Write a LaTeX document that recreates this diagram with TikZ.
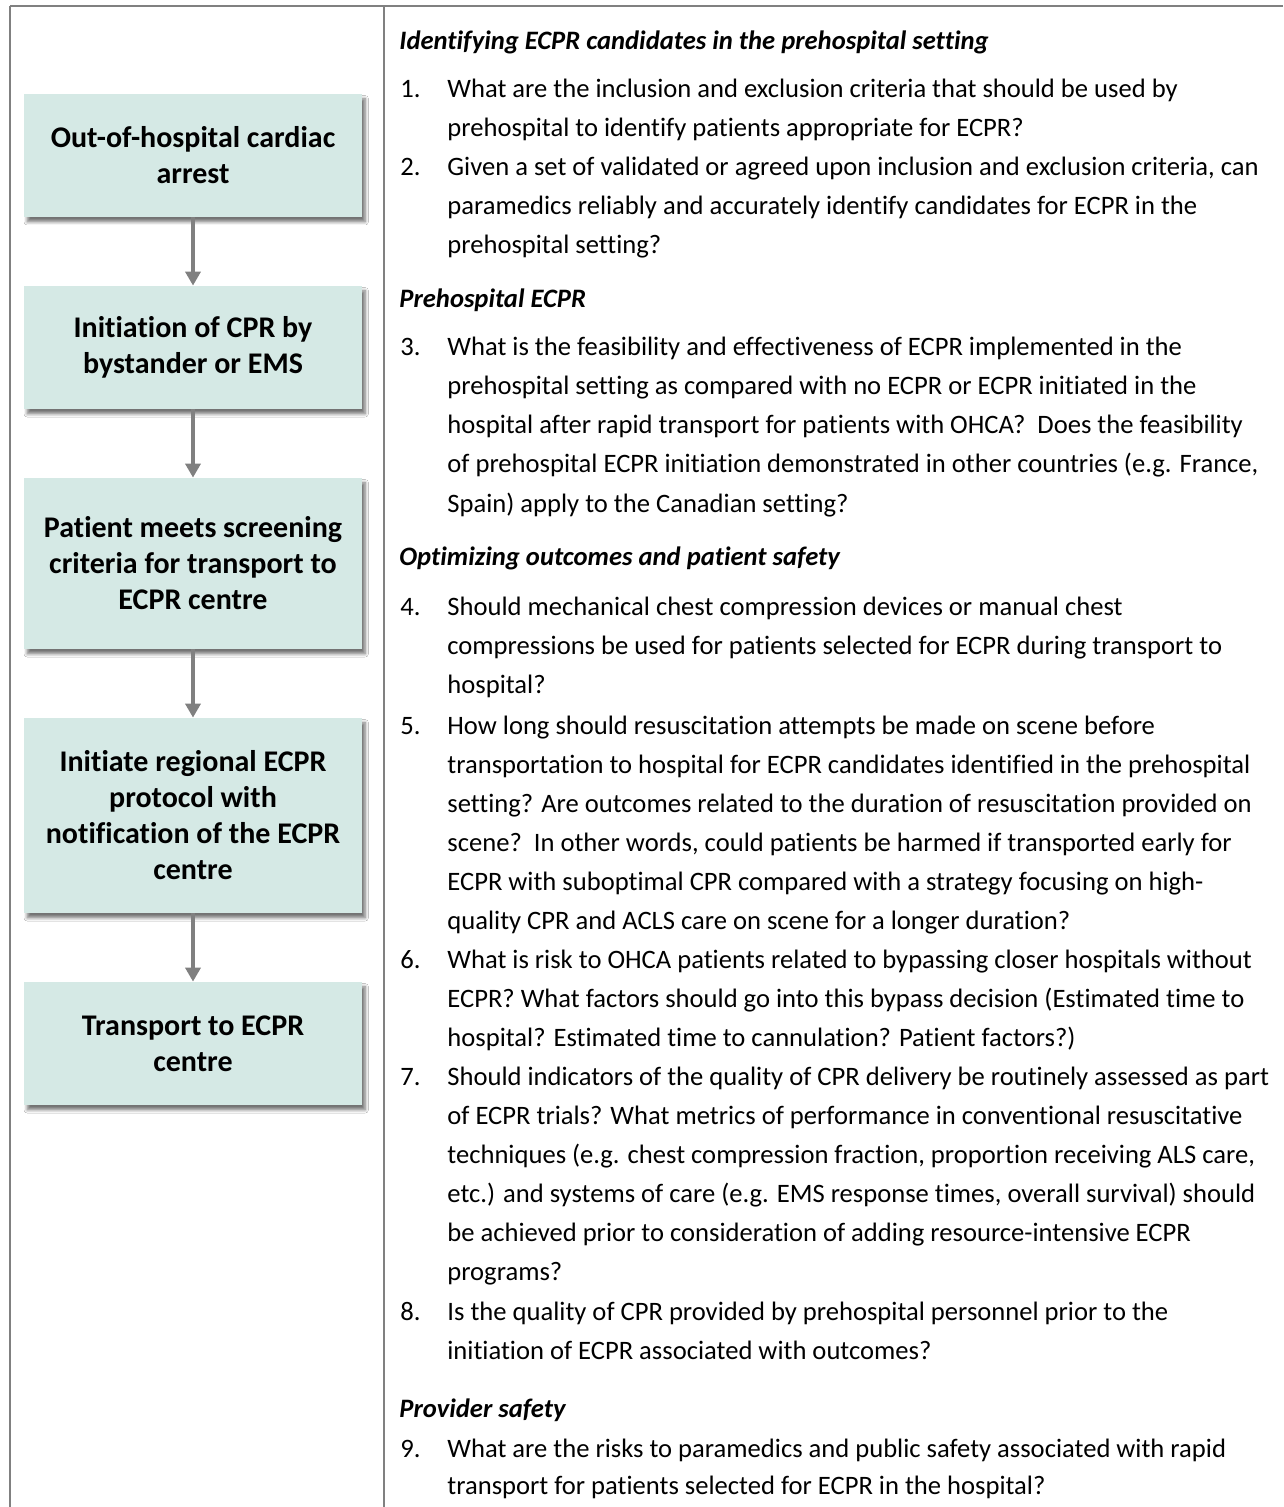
\documentclass[tikz,border=0pt]{standalone}
\usepackage{fontspec}
\setmainfont{Carlito}[Ligatures={NoCommon}]
\usetikzlibrary{arrows.meta,shadows,shadows.blur}
\definecolor{boxfill}{RGB}{213,233,229}
\definecolor{rulegray}{RGB}{128,128,128}
\definecolor{arrowgray}{RGB}{128,128,128}
\begin{document}
\begin{tikzpicture}[x=0.5pt,y=-0.5pt,
  flowbox/.style={draw=none, fill=boxfill, minimum width=169pt, inner sep=0pt, align=center,
    font=\fontsize{15}{18}\selectfont\bfseries,
    blur shadow={shadow xshift=1.6pt, shadow yshift=-2.4pt, shadow blur steps=6, shadow blur radius=1.6pt, shadow opacity=55}},
  flowarrow/.style={draw=arrowgray, line width=2pt, -{Triangle[width=7.5pt,length=7pt]}},
  body/.style={anchor=base west, inner sep=0pt, font=\fontsize{13.3}{16}\selectfont},
  head/.style={anchor=base west, inner sep=0pt, font=\fontsize{13.3}{16}\selectfont\bfseries\itshape},
  tablerule/.style={draw=rulegray, line width=1pt}]
\useasboundingbox (0,0) rectangle (1283,1507);
\fill[white] (0,0) rectangle (1283,1507);

% table rules
\coordinate (tl) at (10,6);
\coordinate (tr) at (1283,6);
\coordinate (tm) at (384,6);
\coordinate (bl) at (10,1507);
\coordinate (bm) at (384,1507);
\draw[tablerule] (tl) -- (tr);
\draw[tablerule] (tl) -- (bl);
\draw[tablerule] (tm) -- (bm);

% flow boxes
\node[flowbox, minimum height=61.5pt] (b1) at (193,155.5) {Out-of-hospital cardiac\\arrest};
\node[flowbox, minimum height=61.5pt] (b2) at (193,347.5) {Initiation of CPR by\\bystander or EMS};
\node[flowbox, minimum height=85.5pt] (b3) at (193,563.5) {Patient meets screening\\criteria for transport to\\ECPR centre};
\node[flowbox, minimum height=97.5pt] (b4) at (193,815.5) {Initiate regional ECPR\\protocol with\\notification of the ECPR\\centre};
\node[flowbox, minimum height=61.5pt] (b5) at (193,1043.5) {Transport to ECPR\\centre};

\draw[flowarrow] (b1.south) -- (b2.north);
\draw[flowarrow] (b2.south) -- (b3.north);
\draw[flowarrow] (b3.south) -- (b4.north);
\draw[flowarrow] (b4.south) -- (b5.north);

% right column
\node[head] (h1) at (399,50) {Identifying ECPR candidates in the prehospital setting};

\node[body] (n1) at (400,98) {1.};
\node[body] (t1a) at (447,98) {What are the inclusion and exclusion criteria that should be used by};
\node[body] (t1b) at (447,137) {prehospital to identify patients appropriate for ECPR?};

\node[body] (n2) at (400,176) {2.};
\node[body] (t2a) at (447,176) {Given a set of validated or agreed upon inclusion and exclusion criteria, can};
\node[body] (t2b) at (447,215) {paramedics reliably and accurately identify candidates for ECPR in the};
\node[body] (t2c) at (447,254) {prehospital setting?};

\node[head] (h2) at (399,308) {Prehospital ECPR};

\node[body] (n3) at (400,356) {3.};
\node[body] (t3a) at (447,356) {What is the feasibility and effectiveness of ECPR implemented in the};
\node[body] (t3b) at (447,395) {prehospital setting as compared with no ECPR or ECPR initiated in the};
\node[body] (t3c) at (447,434) {hospital after rapid transport for patients with OHCA?\ \ Does the feasibility};
\node[body] (t3d) at (447,473) {of prehospital ECPR initiation demonstrated in other countries (e.g. France,};
\node[body] (t3e) at (447,512) {Spain) apply to the Canadian setting?};

\node[head] (h3) at (399,565) {Optimizing outcomes and patient safety};

\node[body] (n4) at (400,615) {4.};
\node[body] (t4a) at (447,615) {Should mechanical chest compression devices or manual chest};
\node[body] (t4b) at (447,654) {compressions be used for patients selected for ECPR during transport to};
\node[body] (t4c) at (447,693) {hospital?};

\node[body] (n5) at (400,734) {5.};
\node[body] (t5a) at (447,734) {How long should resuscitation attempts be made on scene before};
\node[body] (t5b) at (447,773) {transportation to hospital for ECPR candidates identified in the prehospital};
\node[body] (t5c) at (447,812) {setting? Are outcomes related to the duration of resuscitation provided on};
\node[body] (t5d) at (447,851) {scene?\ \ In other words, could patients be harmed if transported early for};
\node[body] (t5e) at (447,890) {ECPR with suboptimal CPR compared with a strategy focusing on high-};
\node[body] (t5f) at (447,929) {quality CPR and ACLS care on scene for a longer duration?};

\node[body] (n6) at (400,968) {6.};
\node[body] (t6a) at (447,968) {What is risk to OHCA patients related to bypassing closer hospitals without};
\node[body] (t6b) at (447,1007) {ECPR? What factors should go into this bypass decision (Estimated time to};
\node[body] (t6c) at (447,1046) {hospital? Estimated time to cannulation? Patient factors?)};

\node[body] (n7) at (400,1085) {7.};
\node[body] (t7a) at (447,1085) {Should indicators of the quality of CPR delivery be routinely assessed as part};
\node[body] (t7b) at (447,1124) {of ECPR trials? What metrics of performance in conventional resuscitative};
\node[body] (t7c) at (447,1163) {techniques (e.g. chest compression fraction, proportion receiving ALS care,};
\node[body] (t7d) at (447,1202) {etc.) and systems of care (e.g. EMS response times, overall survival) should};
\node[body] (t7e) at (447,1241) {be achieved prior to consideration of adding resource-intensive ECPR};
\node[body] (t7f) at (447,1280) {programs?};

\node[body] (n8) at (400,1320) {8.};
\node[body] (t8a) at (447,1320) {Is the quality of CPR provided by prehospital personnel prior to the};
\node[body] (t8b) at (447,1359) {initiation of ECPR associated with outcomes?};

\node[head] (h4) at (399,1417) {Provider safety};

\node[body] (n9) at (400,1457) {9.};
\node[body] (t9a) at (447,1457) {What are the risks to paramedics and public safety associated with rapid};
\node[body] (t9b) at (447,1494) {transport for patients selected for ECPR in the hospital?};
\end{tikzpicture}
\end{document}
